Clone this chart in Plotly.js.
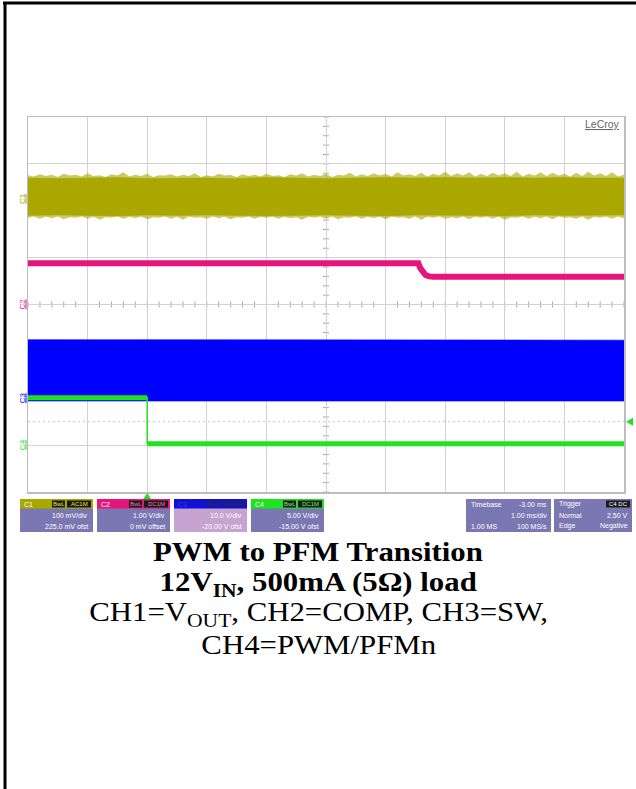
<!DOCTYPE html>
<html><head><meta charset="utf-8">
<script src="https://cdn.plot.ly/plotly-3.0.1.min.js"></script>
<style>html,body{margin:0;padding:0;background:#fff;}#chart{width:636px;height:789px;}</style>
</head><body><div id="chart"></div>
<script>
// ---------------- data ----------------
const channels = ['C1','C2','C3','C4'];
const voltsPerDiv = [0.1, 1, 10, 5];
const offsetV = [0.225, 0, -20, -15];
const couplingBadge = ['AC1M','DC1M','DC1M','DC1M'];
const vdivLabels = ['100 mV/div','1.00 V/div','10.0 V/div','5.00 V/div'];
const ofstLabels = ['225.0 mV ofst','0 mV offset','-20.00 V ofst','-15.00 V ofst'];
const chColors = ['#AAA700','#E5157B','#0000FF','#1FE31F'];

const timeStartMs = -2, peakStepMs = 0.1, coreStepMs = 0.5;  // 1 ms/div, trigger at 2 div
// CH1 = VOUT (AC coupled): peak envelope (fine noise spikes), mV
const c1PeakMaxMV = [51,48,53,49,52,47,54,50,52,48,55,49,51,47,53,50,57,48,52,49,
 54,47,51,50,53,48,52,49,55,47,51,48,54,50,52,47,53,49,52,48,
 54,49,51,47,53,50,55,48,52,49,54,47,52,50,56,48,53,49,55,50,
 54,48,57,50,53,49,56,48,54,50,58,49,55,50,57,48,54,49,56,50,
 55,49,58,48,54,50,57,49,56,50,54,48,56,49,58,50,55,49,57,48,52];
const c1PeakMinMV = [-40,-37,-42,-38,-41,-37,-43,-39,-40,-37,-42,-38,-44,-39,-40,-37,-42,-38,-41,-37,
 -43,-39,-40,-37,-42,-38,-44,-37,-40,-39,-42,-37,-41,-38,-43,-39,-40,-37,-42,-38,
 -40,-37,-42,-38,-41,-39,-44,-38,-40,-37,-42,-37,-43,-39,-40,-37,-42,-38,-41,-37,
 -43,-37,-40,-39,-42,-37,-44,-38,-40,-37,-42,-39,-41,-37,-43,-38,-40,-37,-42,-37,
 -44,-39,-40,-37,-42,-38,-41,-37,-43,-37,-40,-39,-42,-37,-44,-38,-40,-37,-42,-37,-41];
// CH1 dense core of the noise band, mV
const c1CoreMaxMV = [45,44,45,46,44,45,45,44,46,45,44,45,46,45,46,45,46,45,46,45,45];
const c1CoreMinMV = [-35,-34,-35,-36,-34,-35,-34,-35,-36,-35,-34,-35,-36,-34,-35,-35,-36,-34,-35,-35,-34];
// CH2 = COMP, V
const c2TimeMs = [-2, 4.55, 4.58, 4.62, 4.67, 4.73, 4.8, 8];
const c2Volts  = [0.88, 0.88, 0.78, 0.69, 0.63, 0.60, 0.59, 0.59];
// CH3 = SW switching envelope, V
const c3TimeMs = [-2,-1,0,1,2,3,4,5,6,7,8];
const c3UpperV = [12.5,12.5,12.5,12.45,12.45,12.4,12.4,12.4,12.4,12.4,12.4];
const c3LowerV = [-0.6,-0.6,-0.6,-0.6,-0.6,-0.6,-0.6,-0.6,-0.6,-0.6,-0.6];
// CH4 = PWM/PFMn, V
const c4TimeMs = [-2, 0, 0, 8];
const c4Volts  = [5.06, 5.06, 0.15, 0.15];
const triggerTimeMs = 0, triggerLevelV = 2.5, triggerCh = 3;

const titleLines = ['<b>PWM to PFM Transition</b>',
  '<b>12V<sub>IN</sub>, 500mA (5Ω) load</b>',
  'CH1=V<sub>OUT</sub>, CH2=COMP, CH3=SW,',
  'CH4=PWM/PFMn'];

// ---------------- helpers ----------------
const L=28, R=12, T=117, B=297, W=636, H=789;
const PX = p => (p - L) / (W - L - R);
const PY = p => (H - B - p) / (H - T - B);
const toDiv = (v, ch) => (v + offsetV[ch]) / voltsPerDiv[ch];
const sampleTimes = (arr, step) => arr.map((_, i) => +(timeStartMs + i * step).toFixed(3));
const band = (t, hi, lo, ch, scale) => ({
  x: t.concat(t.slice().reverse()),
  y: hi.map(v => toDiv(v*scale, ch)).concat(lo.slice().reverse().map(v => toDiv(v*scale, ch)))});

const traces = [];
const pk = band(sampleTimes(c1PeakMaxMV, peakStepMs), c1PeakMaxMV, c1PeakMinMV, 0, 0.001);
traces.push(Object.assign(pk, {fill: 'toself', fillcolor: 'rgba(170,167,0,0.6)', mode: 'lines',
  line: {width: 0}, hoverinfo: 'skip', showlegend: false}));
const core = band(sampleTimes(c1CoreMaxMV, coreStepMs), c1CoreMaxMV, c1CoreMinMV, 0, 0.001);
traces.push(Object.assign(core, {fill: 'toself', fillcolor: chColors[0], mode: 'lines',
  line: {color: chColors[0], width: 0.5}, hoverinfo: 'skip', showlegend: false}));
traces.push({x: c2TimeMs, y: c2Volts.map(v => toDiv(v, 1)), mode: 'lines',
  line: {color: chColors[1], width: 6}, hoverinfo: 'skip', showlegend: false});
const sw = band(c3TimeMs, c3UpperV, c3LowerV, 2, 1);
traces.push(Object.assign(sw, {fill: 'toself', fillcolor: chColors[2], mode: 'lines',
  line: {color: chColors[2], width: 0.6}, hoverinfo: 'skip', showlegend: false}));
traces.push({x: c4TimeMs, y: c4Volts.map(v => toDiv(v, 3)), mode: 'lines',
  line: {color: chColors[3], width: 1.5}, hoverinfo: 'skip', showlegend: false});
traces.push({x: c4TimeMs.slice(0,2).concat([null], c4TimeMs.slice(2)),
  y: c4Volts.slice(0,2).map(v => toDiv(v,3)).concat([null], c4Volts.slice(2).map(v => toDiv(v,3))),
  mode: 'lines', connectgaps: false, line: {color: chColors[3], width: 5}, hoverinfo: 'skip', showlegend: false});

const shapes = [], annotations = [];
// minor graticule ticks on the centre cross (every 0.2 division)
const tickCol = '#A8A8A8';
for (let k = 0; k <= 50; k++) {
  const t = -2 + k * 0.2;
  shapes.push({type: 'line', xref: 'x', yref: 'y', x0: t, x1: t, y0: -3/46.875, y1: 3/46.875,
    line: {color: tickCol, width: 1}, layer: 'below'});
}
for (let k = 0; k <= 40; k++) {
  const d = -4 + k * 0.2;
  shapes.push({type: 'line', xref: 'x', yref: 'y', x0: 3 - 3/59.6, x1: 3 + 3/59.6, y0: d, y1: d,
    line: {color: tickCol, width: 1}, layer: 'below'});
}
const trigDiv = toDiv(triggerLevelV, triggerCh);
shapes.push({type: 'line', xref: 'x', yref: 'y', x0: -2, x1: 8, y0: trigDiv, y1: trigDiv,
  line: {color: '#C4C4C4', width: 1, dash: '2px,3px'}, layer: 'below'});
shapes.push({type: 'path', xref: 'paper', yref: 'y',
  path: `M ${PX(626)},${trigDiv} L ${PX(633)},${trigDiv + 4/46.875} L ${PX(633)},${trigDiv - 4/46.875} Z`,
  fillcolor: chColors[3], line: {width: 0}});
shapes.push({type: 'path', xref: 'x', yref: 'paper',
  path: `M ${triggerTimeMs},${PY(493)} L ${triggerTimeMs - 4/59.6},${PY(499)} L ${triggerTimeMs + 4/59.6},${PY(499)} Z`,
  fillcolor: chColors[3], line: {width: 0}});
shapes.push({type: 'line', xref: 'paper', yref: 'paper', x0: PX(3), x1: PX(640), y0: PY(3), y1: PY(3), line: {color: '#000', width: 3}});
shapes.push({type: 'line', xref: 'paper', yref: 'paper', x0: PX(5), x1: PX(5), y0: PY(2), y1: PY(792), line: {color: '#000', width: 3}});

// channel ground markers (rotated labels with a short underline)
channels.forEach((c, i) => {
  annotations.push({xref: 'paper', yref: 'y', x: PX(22), y: toDiv(0, i), text: c,
    textangle: -90, showarrow: false, font: {family: 'Liberation Sans', size: 8, color: chColors[i]},
    xanchor: 'center', yanchor: 'middle'});
  shapes.push({type: 'line', xref: 'paper', yref: 'y', x0: PX(26), x1: PX(26),
    y0: toDiv(0, i) - 5/46.875, y1: toDiv(0, i) + 5/46.875, line: {color: chColors[i], width: 1}});
});
annotations.push({xref: 'paper', yref: 'paper', x: PX(622), y: PY(124), text: '<u>LeCroy</u>', showarrow: false,
  xanchor: 'right', yanchor: 'middle', font: {family: 'Liberation Sans', size: 10.5, color: '#666'}});

const bodyCol = '#7B77B3', selBody = '#C6A3D0';
const boxX = [[20,93],[97,170],[174,247],[251,324]];
const badgeText = ['#E8E640','#F27AB4','#2020A8','#7CF07C'];
function rect(x0,x1,y0,y1,col){shapes.push({type:'rect',xref:'paper',yref:'paper',x0:PX(x0),x1:PX(x1),y0:PY(y0),y1:PY(y1),fillcolor:col,line:{width:0},layer:'above'});}
function txt(x,y,s,anchor,col,size){annotations.push({xref:'paper',yref:'paper',x:PX(x),y:PY(y),text:s,showarrow:false,xanchor:anchor,yanchor:'middle',font:{family:'Liberation Sans',size:size||7,color:col||'#fff'}});}
channels.forEach((c, i) => {
  const [x0, x1] = boxX[i];
  rect(x0, x1, 499, 532, i === 2 ? selBody : bodyCol);
  rect(x0, x1, 499, 508.5, i === 2 ? '#1010D8' : chColors[i]);
  txt(x0+2, 504, c, 'left', i === 2 ? '#3a3ad0' : '#fff', 7);
  const bCol = i === 2 ? '#1A1A90' : '#1a1a1a';
  rect(x1-26, x1-2, 500.5, 507.5, bCol);
  rect(x1-41, x1-28, 500.5, 507.5, bCol);
  txt(x1-14, 504, couplingBadge[i], 'center', badgeText[i], 6);
  txt(x1-34.5, 504, 'BwL', 'center', badgeText[i], 6);
  txt(x1-3, 515.5, vdivLabels[i], 'right', '#fff', 7);
  txt(x1-3, 526, ofstLabels[i], 'right', '#fff', 7);
});
rect(466, 551, 499, 532, bodyCol);
txt(469, 504, 'Timebase', 'left'); txt(549, 504, '-3.00 ms', 'right');
txt(549, 515.5, '1.00 ms/div', 'right');
txt(469, 526, '1.00 MS', 'left'); txt(549, 526, '100 MS/s', 'right');
rect(554, 632, 499, 532, bodyCol);
txt(557, 504, 'Trigger', 'left');
rect(606, 630, 500.5, 507.5, '#1a1a1a');
txt(618, 504, 'C4 DC', 'center', '#fff', 6);
txt(557, 515.5, 'Normal', 'left'); txt(630, 515.5, '2.50 V', 'right');
txt(557, 526, 'Edge', 'left'); txt(630, 526, 'Negative', 'right');

// caption (Times-like serif, drawn slightly wide like the original)
const capY = [551, 583, 613, 644];
const capIdx = [];
titleLines.forEach((s, i) => {
  capIdx.push(annotations.length);
  annotations.push({xref: 'paper', yref: 'paper', x: PX(318), y: PY(capY[i]), text: s, showarrow: false,
    xanchor: 'center', yanchor: 'middle', font: {family: 'Liberation Serif', size: 28, color: '#000'}});
});

const gridCol = '#D2D2D2';
const layout = {
  width: W, height: H, margin: {l: L, r: R, t: T, b: B, pad: 0},
  paper_bgcolor: '#fff', plot_bgcolor: '#fff', showlegend: false,
  xaxis: {range: [-2, 8], tick0: -2, dtick: 1, showgrid: true, gridcolor: gridCol, gridwidth: 1,
    zeroline: false, showline: true, mirror: true, linecolor: '#BDBDBD', linewidth: 1.5, ticks: '', showticklabels: false, fixedrange: true},
  yaxis: {range: [-4, 4], tick0: -4, dtick: 1, showgrid: true, gridcolor: gridCol, gridwidth: 1,
    zeroline: false, showline: true, mirror: true, linecolor: '#BDBDBD', linewidth: 1.5, ticks: '', showticklabels: false, fixedrange: true},
  shapes: shapes, annotations: annotations
};
Plotly.newPlot('chart', traces, layout, {staticPlot: true, displayModeBar: false}).then(gd => {
  const s = 1.1;
  capIdx.forEach(idx => {
    const t = gd.querySelector(`.annotation[data-index="${idx}"] text.annotation-text`);
    if (!t) return;
    const bb = t.getBBox();
    const cx = bb.x + bb.width / 2;
    t.setAttribute('transform', `translate(${cx * (1 - s)},0) scale(${s},1)`);
  });
});
</script></body></html>
